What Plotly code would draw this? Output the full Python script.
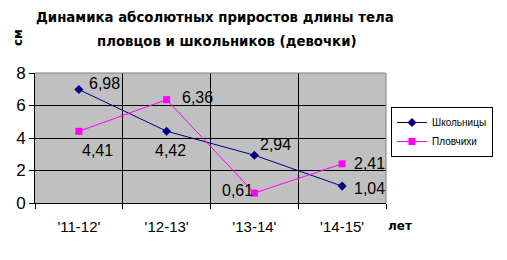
import plotly.graph_objects as go

categories = ["'11-12'", "'12-13'", "'13-14'", "'14-15'"]
schoolgirls = [6.98, 4.42, 2.94, 1.04]
swimmers = [4.41, 6.36, 0.61, 2.41]
y_ticks = [0, 2, 4, 6, 8]

# label offsets (style only)
school_off = [(8, 6), (-14, -19), (4, 11), (10, -2)]
swim_off = [(1, -19), (13, 2), (-34, 3), (10, 0)]

def fmt(v):
    return f"{v:.2f}".replace(".", ",")

LBL = dict(family="Liberation Sans, Arial", size=16, color="black")
TTL = dict(family="DejaVu Sans", size=13.3, color="black")

fig = go.Figure()
fig.add_trace(go.Scatter(x=categories, y=schoolgirls, name="Школьницы", mode="lines+markers",
                         line=dict(color="#000080", width=1),
                         marker=dict(symbol="diamond", size=7, color="#000080")))
fig.add_trace(go.Scatter(x=categories, y=swimmers, name="Пловчихи", mode="lines+markers",
                         line=dict(color="#FF00FF", width=1),
                         marker=dict(symbol="square", size=7, color="#FF00FF")))

ann = []
for c, v, (dx, dy) in zip(categories, schoolgirls, school_off):
    ann.append(dict(x=c, y=v, text=fmt(v), showarrow=False, xanchor="left", yanchor="middle",
                    xshift=dx, yshift=dy, font=LBL))
for c, v, (dx, dy) in zip(categories, swimmers, swim_off):
    ann.append(dict(x=c, y=v, text=fmt(v), showarrow=False, xanchor="left", yanchor="middle",
                    xshift=dx, yshift=dy, font=LBL))

L, R, T, B = 35, 386, 73, 203
def px(x):
    return (x - L) / (R - L)
def py(y):
    return (B - y) / (B - T)

ann += [
    dict(text="<b>Динамика абсолютных приростов длины тела</b>", x=px(215), y=py(17), xref="paper", yref="paper",
         xanchor="center", yanchor="middle", showarrow=False, font=TTL),
    dict(text="<b>пловцов и школьников (девочки)</b>", x=px(227), y=py(42), xref="paper", yref="paper",
         xanchor="center", yanchor="middle", showarrow=False, font=TTL),
    dict(text="<b>см</b>", x=px(18), y=py(38), textangle=-90, xref="paper", yref="paper",
         xanchor="center", yanchor="middle", showarrow=False, font=dict(family="DejaVu Sans", size=12, color="black")),
    dict(text="<b>лет</b>", x=px(386), y=py(226), xref="paper", yref="paper",
         xanchor="left", yanchor="middle", showarrow=False, font=dict(family="DejaVu Sans", size=12, color="black")),
]

fig.update_layout(
    width=507, height=260,
    margin=dict(l=L, r=507 - R, t=T, b=260 - B),
    paper_bgcolor="white", plot_bgcolor="#C0C0C0",
    font=dict(family="Liberation Sans, Arial", color="black"),
    annotations=ann,
    showlegend=True,
    legend=dict(x=px(391), y=py(107), xanchor="left", yanchor="top",
                bgcolor="white", bordercolor="black", borderwidth=1,
                font=dict(family="Liberation Sans, Arial", size=10), tracegroupgap=0,
                itemwidth=30),
    shapes=[
        dict(type="line", xref="paper", yref="paper", x0=0, x1=1, y0=1, y1=1, line=dict(color="#808080", width=1)),
        dict(type="line", xref="paper", yref="paper", x0=1, x1=1, y0=0, y1=1, line=dict(color="#808080", width=1)),
    ],
)
fig.update_xaxes(type="category", tickson="boundaries", showgrid=True, gridcolor="black", gridwidth=1,
                 showline=True, linecolor="black", ticks="outside", ticklen=5, tickcolor="black",
                 tickfont=dict(size=15), ticklabelstandoff=10, range=[-0.5, 3.5], fixedrange=True)
fig.update_yaxes(range=[0, 8], tickvals=y_ticks, showgrid=True, gridcolor="black", gridwidth=1,
                 zeroline=False, showline=True, linecolor="black", ticks="outside", ticklen=5,
                 tickcolor="black", tickfont=dict(size=17), fixedrange=True)

fig.write_html("out.html")
